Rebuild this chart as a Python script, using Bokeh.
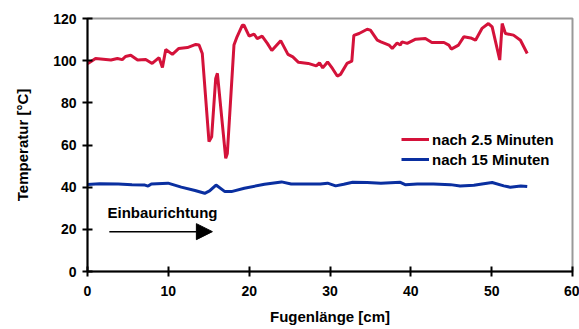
from bokeh.plotting import figure
from bokeh.models import Range1d, Arrow, NormalHead, Label, FixedTicker
from bokeh.embed import file_html
from bokeh.resources import INLINE

# Temperature along the joint after 2.5 minutes
pos_25 = [0.0, 1.0, 2.9, 3.7, 4.3, 4.7, 5.35, 6.2, 7.2, 8.0, 8.85, 9.27, 9.68, 10.5,
          11.3, 12.36, 13.4, 13.8, 14.2, 15.03, 15.36, 15.86, 16.07, 17.1, 17.3,
          18.12, 18.5, 19.16, 19.36, 20.0, 20.6, 21.0, 21.6, 22.25, 22.8, 23.9,
          24.8, 25.4, 26.1, 27.3, 28.3, 28.7, 29.1, 29.7, 30.3, 30.9, 31.3, 32.1,
          32.7, 32.95, 33.6, 34.6, 35.0, 35.85, 36.3, 37.3, 37.7, 38.3, 38.7,
          38.9, 39.55, 40.6, 41.8, 42.6, 44.1, 44.7, 45.0, 45.9, 46.55, 47.4,
          48.0, 48.8, 49.6, 50.06, 51.0, 51.3, 51.7, 52.7, 53.56, 54.4]
temp_25 = [98.5, 101.0, 100.3, 101.0, 100.5, 102.0, 102.6, 100.3, 100.6, 98.7,
           101.4, 96.8, 105.3, 103.0, 105.8, 106.2, 107.7, 107.4, 103.4, 61.6,
           63.9, 91.6, 94.0, 53.7, 56.0, 107.4, 111.3, 116.8, 116.8, 111.6, 112.6,
           110.5, 111.6, 108.2, 104.8, 109.5, 103.0, 101.8, 99.2, 98.7, 97.5,
           99.0, 96.6, 99.4, 96.3, 92.7, 93.5, 98.7, 99.8, 112.0, 112.9, 114.9,
           114.5, 109.7, 108.9, 107.4, 105.8, 108.4, 107.4, 108.9, 108.2, 110.2,
           110.5, 108.6, 108.6, 107.4, 105.5, 107.4, 111.3, 110.8, 109.7, 115.3,
           117.6, 116.0, 100.3, 117.6, 112.9, 112.1, 109.7, 103.4]

# Temperature along the joint after 15 minutes
pos_15 = [0.0, 1.5, 3.8, 5.5, 7.1, 7.5, 7.9, 9.96, 11.6, 13.3, 14.5, 15.1, 15.9,
          17.0, 17.8, 19.4, 21.9, 24.0, 25.2, 26.4, 27.7, 28.8, 29.7, 30.7, 31.7,
          32.8, 34.6, 36.3, 38.7, 39.3, 40.8, 42.8, 44.9, 46.1, 47.8, 48.8, 50.06,
          51.5, 52.3, 53.6, 54.4]
temp_15 = [41.3, 41.6, 41.5, 41.2, 41.0, 40.5, 41.5, 41.9, 40.0, 38.4, 37.1, 38.2,
           41.0, 37.9, 37.9, 39.5, 41.4, 42.5, 41.5, 41.5, 41.5, 41.5, 41.9, 40.6,
           41.4, 42.3, 42.2, 41.9, 42.3, 41.2, 41.5, 41.5, 41.2, 40.6, 40.9, 41.5,
           42.2, 40.6, 40.0, 40.6, 40.3]

x_ticks = [0, 10, 20, 30, 40, 50, 60]
y_ticks = [0, 20, 40, 60, 80, 100, 120]

RED = "#D4123A"
BLUE = "#0A2FA0"
FONT = "Liberation Sans"

p = figure(width=579, height=329, output_backend="svg", toolbar_location=None,
           x_range=Range1d(0, 60), y_range=Range1d(0, 120),
           min_border_left=87, min_border_right=7, min_border_top=18,
           min_border_bottom=58)

p.line(pos_25, temp_25, color=RED, line_width=3, legend_label="nach 2.5 Minuten")
p.line(pos_15, temp_15, color=BLUE, line_width=3, legend_label="nach 15 Minuten")

# frame: gray top/right border, black axes
p.xgrid.visible = False
p.ygrid.visible = False
p.outline_line_color = "#999999"
p.outline_line_width = 2
p.background_fill_color = "white"
p.border_fill_color = "white"

for ax, ticks in ((p.xaxis, x_ticks), (p.yaxis, y_ticks)):
    ax.ticker = FixedTicker(ticks=ticks)
    ax.minor_tick_line_color = None
    ax.axis_line_color = "black"
    ax.axis_line_width = 2
    ax.major_tick_line_color = "black"
    ax.major_tick_line_width = 2
    ax.major_tick_in = 5
    ax.major_tick_out = 5
    ax.major_label_text_font = FONT
    ax.major_label_text_font_style = "bold"
    ax.major_label_text_font_size = "14px"
    ax.major_label_text_color = "black"
    ax.axis_label_text_font = FONT
    ax.axis_label_text_font_style = "bold"
    ax.axis_label_text_font_size = "15px"
    ax.axis_label_text_color = "black"

p.xaxis.axis_label = "Fugenlänge [cm]"
p.yaxis.axis_label = "Temperatur [°C]"
p.xaxis.major_label_standoff = 9
p.yaxis.major_label_standoff = 6
p.xaxis.axis_label_standoff = 9
p.yaxis.axis_label_standoff = 19

# legend
lg = p.legend[0]
lg.location = (314, 102)
lg.background_fill_alpha = 0
lg.border_line_color = None
lg.padding = 0
lg.margin = 0
lg.spacing = 0
lg.glyph_width = 28
lg.glyph_height = 20
lg.label_height = 20
lg.label_standoff = 3
lg.label_text_font = FONT
lg.label_text_font_style = "bold"
lg.label_text_font_size = "15px"
lg.label_text_color = "black"

# installation direction annotation
arrow_y = 18.9
p.add_layout(Arrow(x_start=2.7, y_start=arrow_y, x_end=15.45, y_end=arrow_y,
                   line_color="black", line_width=1.5,
                   end=NormalHead(size=16, fill_color="black", line_color="black")))
p.add_layout(Label(x=2.47, y=27.9, text="Einbaurichtung", text_baseline="middle",
                   text_font=FONT, text_font_style="bold", text_font_size="15px",
                   text_color="black"))

open("out.html", "w").write(file_html(p, INLINE))
